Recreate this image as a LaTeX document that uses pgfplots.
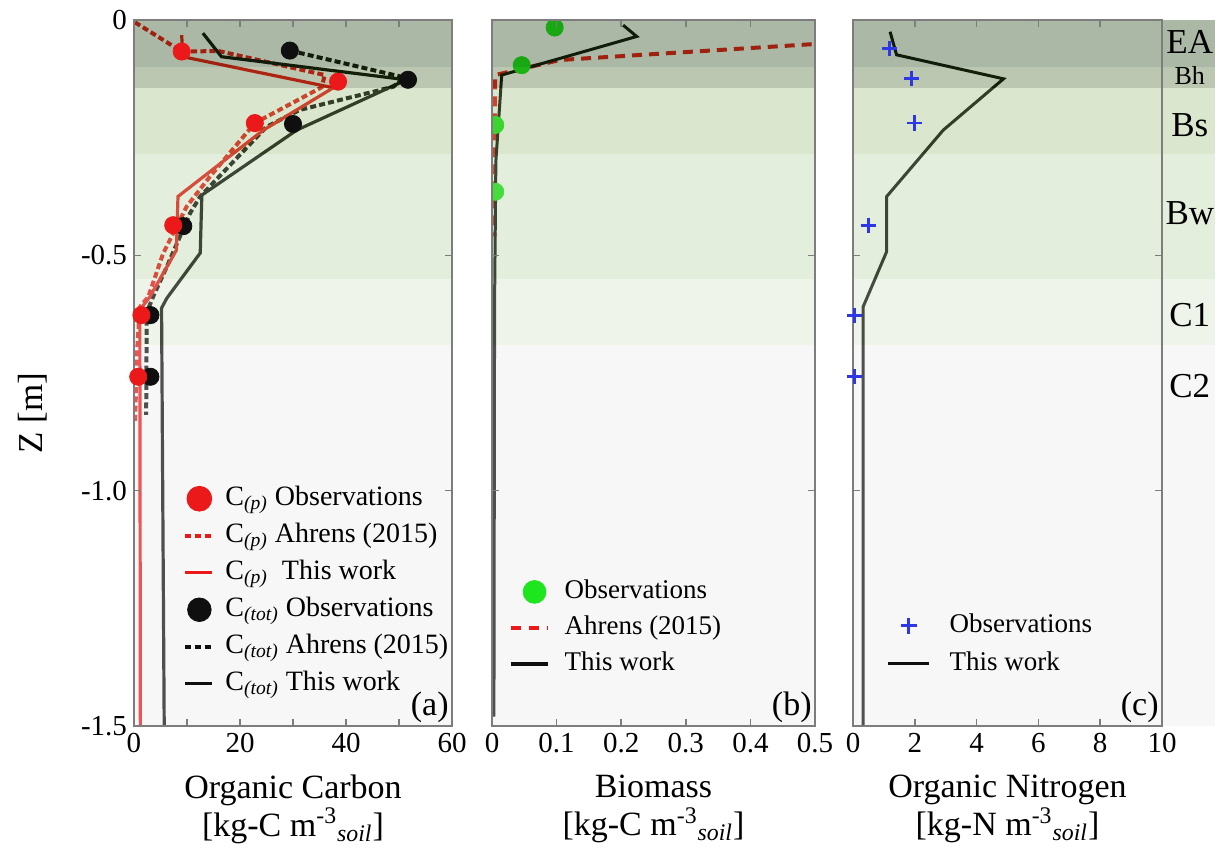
\documentclass[border=0pt]{standalone}
\usepackage{fontspec}
\setmainfont{Liberation Serif}
\usepackage{pgfplots}
\pgfplotsset{compat=1.18}

\definecolor{cpred}{RGB}{235,25,25}
\definecolor{ctblk}{RGB}{15,15,15}
\definecolor{obsgreen}{RGB}{30,230,30}
\definecolor{obsblue}{RGB}{45,55,230}
\definecolor{framegray}{RGB}{125,125,125}
\definecolor{bEA}{RGB}{18,52,0}
\definecolor{bBh}{RGB}{32,68,0}
\definecolor{bBs}{RGB}{132,172,88}
\definecolor{bBw}{RGB}{165,198,138}
\definecolor{bCa}{RGB}{198,218,185}
\definecolor{bCb}{RGB}{228,228,228}

\newcommand{\soilbands}[1]{%
 \fill[bEA,opacity=0.35] (axis cs:0,0) rectangle (axis cs:#1,-0.10);
 \fill[bBh,opacity=0.3] (axis cs:0,-0.10) rectangle (axis cs:#1,-0.145);
 \fill[bBs,opacity=0.3] (axis cs:0,-0.145) rectangle (axis cs:#1,-0.285);
 \fill[bBw,opacity=0.3] (axis cs:0,-0.285) rectangle (axis cs:#1,-0.55);
 \fill[bCa,opacity=0.3] (axis cs:0,-0.55) rectangle (axis cs:#1,-0.69);
 \fill[bCb,opacity=0.3] (axis cs:0,-0.69) rectangle (axis cs:#1,-1.5);
}
\newcommand{\tl}[1]{\textrm{#1}}

\pgfplotsset{
 soil/.style={
   scale only axis, height=353pt, ymin=-1.5, ymax=0,
   axis on top,
   axis line style={framegray, line width=0.9pt},
   tick style={framegray, line width=0.8pt},
   major tick length=3.5pt,
   tick align=inside,
   ytick={0,-0.5,-1,-1.5},
   /pgf/number format/assume math mode=true,
   tick label style={font=\fontsize{14.5}{16}\selectfont},
   every axis x label/.style={at={(rel axis cs:0.5,0)}, anchor=center, yshift=-41.5pt, align=center, font=\fontsize{17}{19}\selectfont},
   legend cell align=left,
 }
}

\begin{document}
\begin{tikzpicture}
\useasboundingbox (-67pt,-65pt) rectangle (546pt,363pt);

% ---------------- (a) Organic carbon
\begin{axis}[soil, name=A, at={(0pt,0pt)}, anchor=south west, width=159pt,
  xmin=0, xmax=60, xtick={0,10,20,30,40,50,60},
  xticklabels={\tl{0},,\tl{20},,\tl{40},,\tl{60}},
  yticklabels={\tl{0},\tl{-0.5},\tl{-1.0},\tl{-1.5}},
  ylabel={Z [m]},
  every axis y label/.style={at={(rel axis cs:0,0.443)}, xshift=-50.5pt, rotate=90, anchor=center, font=\fontsize{17.5}{19}\selectfont},
  xlabel={Organic Carbon\\{[kg-C m\textsuperscript{-3}\textsubscript{\textit{soil}}]}},
  legend style={at={(0.154,0.343)}, anchor=north west, draw=none, fill=none, inner sep=0pt,
    font=\fontsize{14}{16}\selectfont, row sep=4pt,
    nodes={inner sep=0.5pt, text height=10pt, text depth=3.5pt},
    /tikz/every odd column/.append style={column sep=5pt}},
  legend image code/.code={\draw[#1] (0pt,0pt) -- (13.5pt,0pt);},
]
% C_p Ahrens (dotted)
\addplot[cpred, line width=2pt, dash pattern=on 3pt off 1.6pt, forget plot] coordinates {
 (0.2,-0.005) (9,-0.067) (16,-0.066) (36,-0.117) (35.4,-0.143) (22.8,-0.219)
 (14.3,-0.333) (9.9,-0.397) (5.5,-0.496) (2.7,-0.588) (1.1,-0.61) (0.6,-0.7) (0.2,-0.857)};
% C_tot Ahrens (dotted)
\addplot[ctblk, line width=2pt, dash pattern=on 3pt off 1.6pt, forget plot] coordinates {
 (29.4,-0.065) (51,-0.122) (48.9,-0.142) (31.3,-0.191) (25,-0.227) (12.5,-0.375)
 (10.6,-0.41) (6.2,-0.524) (3.6,-0.588) (2.4,-0.622) (2.3,-0.839)};
% C_tot This work
\addplot[ctblk, line width=1.6pt, forget plot] coordinates {
 (13,-0.028) (16.5,-0.078) (51.4,-0.127) (30.7,-0.234) (12.8,-0.372) (12.5,-0.495)
 (6.2,-0.591) (5.2,-0.612) (5.7,-1.5)};
% C_p This work
\addplot[cpred, line width=1.6pt, forget plot] coordinates {
 (9,-0.032) (9.2,-0.078) (37.6,-0.144) (24.4,-0.234) (8.3,-0.375) (8.0,-0.489)
 (3.0,-0.588) (1.1,-0.616) (1.2,-1.5)};
% observations
\addplot[only marks, mark=*, mark size=4.3pt, ctblk, forget plot] coordinates {
 (29.4,-0.065) (51.7,-0.127) (30.0,-0.221) (9.3,-0.438) (3.1,-0.627) (3.1,-0.758)};
\addplot[only marks, mark=*, mark size=4.3pt, cpred, forget plot] coordinates {
 (9.0,-0.067) (38.5,-0.131) (22.8,-0.219) (7.4,-0.436) (1.4,-0.627) (0.8,-0.758)};

\soilbands{60}

\addlegendimage{legend image code/.code={\fill[cpred] (7pt,0pt) circle (6.2pt);}}
\addlegendentry{C\textsubscript{\textit{(p)}} Observations}
\addlegendimage{cpred, line width=2pt, dash pattern=on 3pt off 2pt}
\addlegendentry{C\textsubscript{\textit{(p)}} Ahrens (2015)}
\addlegendimage{cpred, line width=1.6pt}
\addlegendentry{C\textsubscript{\textit{(p)}}\ \ This work}
\addlegendimage{legend image code/.code={\fill[ctblk] (7pt,0pt) circle (5.9pt);}}
\addlegendentry{C\textsubscript{\textit{(tot)}} Observations}
\addlegendimage{ctblk, line width=2pt, dash pattern=on 3pt off 2pt}
\addlegendentry{C\textsubscript{\textit{(tot)}} Ahrens (2015)}
\addlegendimage{ctblk, line width=1.6pt}
\addlegendentry{C\textsubscript{\textit{(tot)}} This work}

\node[anchor=south east, inner sep=1.5pt, font=\fontsize{17}{19}\selectfont] at (rel axis cs:1,0) {(a)};
\end{axis}

% ---------------- (b) Biomass
\begin{axis}[soil, name=B, at={(179pt,0pt)}, anchor=south west, width=161.5pt,
  xmin=0, xmax=0.5, xtick={0,0.1,0.2,0.3,0.4,0.5},
  xticklabels={\tl{0},\tl{0.1},\tl{0.2},\tl{0.3},\tl{0.4},\tl{0.5}},
  yticklabels={}, clip marker paths=true,
  xlabel={Biomass\\{[kg-C m\textsuperscript{-3}\textsubscript{\textit{soil}}]}},
  legend style={at={(0.05,0.211)}, anchor=north west, draw=none, fill=none, inner sep=0pt,
    font=\fontsize{13.5}{16}\selectfont, row sep=3.5pt,
    nodes={inner sep=0.5pt, text height=10pt, text depth=3.5pt},
    /tikz/every odd column/.append style={column sep=7pt}},
  legend image code/.code={\draw[#1] (0pt,0pt) -- (18.5pt,0pt);},
]
\addplot[cpred, line width=2pt, dash pattern=on 5pt off 3.5pt, forget plot] coordinates {
 (0.6,-0.046) (0.5,-0.051) (0.105,-0.085) (0.005,-0.117) (0.004,-0.46)};
\addplot[ctblk, line width=1.5pt, forget plot] coordinates {
 (0.203,-0.011) (0.224,-0.035) (0.015,-0.117) (0.006,-0.30) (0.004,-0.6) (0.003,-1.48)};
\addplot[only marks, mark=*, mark size=4.3pt, obsgreen, forget plot] coordinates {
 (0.097,-0.016) (0.046,-0.096) (0.005,-0.223) (0.005,-0.365)};

\soilbands{0.5}

\addlegendimage{legend image code/.code={\fill[obsgreen] (12pt,0pt) circle (5.7pt);}}
\addlegendentry{Observations}
\addlegendimage{cpred, line width=2pt, dash pattern=on 5pt off 4pt}
\addlegendentry{Ahrens (2015)}
\addlegendimage{ctblk, line width=1.6pt}
\addlegendentry{This work}

\node[anchor=south east, inner sep=1.5pt, font=\fontsize{17}{19}\selectfont] at (rel axis cs:1,0) {(b)};
\end{axis}

% ---------------- (c) Organic nitrogen
\begin{axis}[soil, name=C, at={(359.5pt,0pt)}, anchor=south west, width=154.5pt,
  xmin=0, xmax=10, xtick={0,2,4,6,8,10},
  xticklabels={\tl{0},\tl{2},\tl{4},\tl{6},\tl{8},\tl{10}},
  yticklabels={}, clip=false,
  xlabel={Organic Nitrogen\\{[kg-N m\textsuperscript{-3}\textsubscript{\textit{soil}}]}},
  legend style={at={(0.107,0.163)}, anchor=north west, draw=none, fill=none, inner sep=0pt,
    font=\fontsize{13.5}{16}\selectfont, row sep=4.5pt,
    nodes={inner sep=0.5pt, text height=10pt, text depth=3.5pt},
    /tikz/every odd column/.append style={column sep=9pt}},
  legend image code/.code={\draw[#1] (0pt,0pt) -- (20.5pt,0pt);},
]
\addplot[ctblk, line width=1.5pt, forget plot] coordinates {
 (1.2,-0.025) (1.41,-0.074) (4.87,-0.125) (2.92,-0.234) (1.09,-0.375) (1.09,-0.492)
 (0.33,-0.609) (0.33,-1.5)};
\addplot[only marks, mark=+, mark size=3.8pt, line width=1.4pt, obsblue, forget plot] coordinates {
 (1.18,-0.060) (1.88,-0.124) (2.0,-0.219) (0.5,-0.436) (0.06,-0.627) (0.06,-0.758)};

\soilbands{11.72}

\addlegendimage{legend image code/.code={\draw[obsblue, line width=1.4pt] (10.25pt,-4pt) -- (10.25pt,4pt) (6.25pt,0pt) -- (14.25pt,0pt);}}
\addlegendentry{Observations}
\addlegendimage{ctblk, line width=1.6pt}
\addlegendentry{This work}

\node[font=\fontsize{17.5}{19}\selectfont] at (axis cs:10.9,-0.047) {EA};
\node[font=\fontsize{13}{15}\selectfont] at (axis cs:10.9,-0.119) {Bh};
\node[font=\fontsize{17.5}{19}\selectfont] at (axis cs:10.9,-0.223) {Bs};
\node[font=\fontsize{17.5}{19}\selectfont] at (axis cs:10.9,-0.41) {Bw};
\node[font=\fontsize{17.5}{19}\selectfont] at (axis cs:10.9,-0.627) {C1};
\node[font=\fontsize{17.5}{19}\selectfont] at (axis cs:10.9,-0.778) {C2};

\node[anchor=south east, inner sep=1.5pt, font=\fontsize{17}{19}\selectfont] at (rel axis cs:1,0) {(c)};
\end{axis}
\end{tikzpicture}
\end{document}
